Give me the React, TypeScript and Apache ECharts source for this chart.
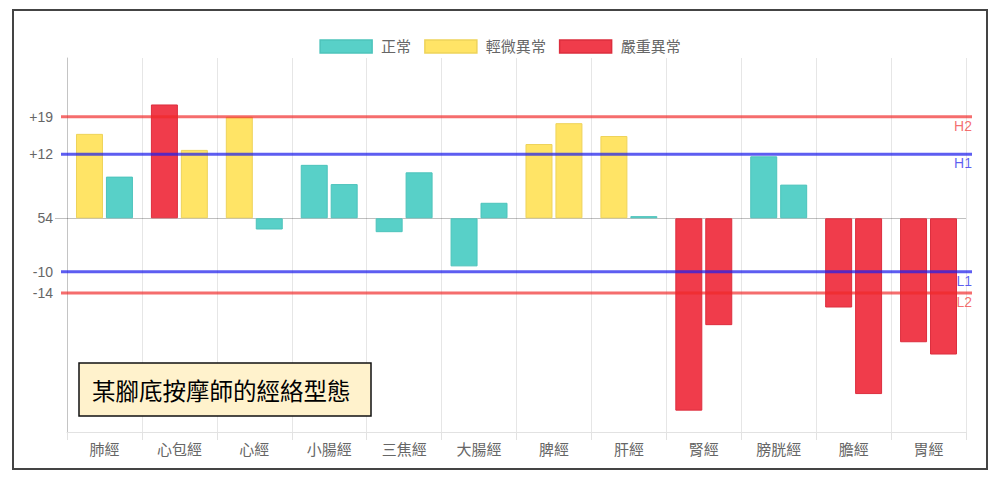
import React, { useEffect, useRef } from "react";
import * as echarts from "echarts";

const categories = ["肺經", "心包經", "心經", "小腸經", "三焦經", "大腸經", "脾經", "肝經", "腎經", "膀胱經", "膽經", "胃經"];
const leftValues = [15.8, 21.3, 19, 10, -2.6, -9, 13.9, 15.4, -36, 11.6, -16.7, -23.2];
const rightValues = [7.8, 12.8, -2.1, 6.4, 8.6, 2.9, 17.8, 0.4, -20, 6.3, -32.9, -25.5];
const leftStatus = [1, 2, 1, 0, 0, 0, 1, 1, 2, 0, 2, 2];
const rightStatus = [0, 1, 0, 0, 0, 0, 1, 0, 2, 0, 2, 2];
const statusNames = ["正常", "輕微異常", "嚴重異常"];
const thresholdValues = [19, 12, -10, -14];
const thresholdLabels = ["H2", "H1", "L1", "L2"];
const yTickValues = [19, 12, 0, -10, -14];
const yTickLabels = ["+19", "+12", "54", "-10", "-14"];
const titleText = "某腳底按摩師的經絡型態";

const FONT = "'Liberation Sans', 'Noto Sans CJK TC', sans-serif";
const statusFill = ["#58D0C8", "#FFE466", "#F03C4B"];
const statusBorder = ["#4CC3BB", "#EED35A", "#DC2E3E"];
const thresholdColor: Record<string, string> = {
  H2: "rgba(240,40,40,0.68)",
  H1: "rgba(30,30,235,0.72)",
  L1: "rgba(30,30,235,0.72)",
  L2: "rgba(240,40,40,0.68)",
};

export default function App() {
  const ref = useRef<HTMLDivElement>(null);
  useEffect(() => {
    document.body.style.margin = "0";
    const chart = echarts.init(ref.current!, null, { renderer: "svg" });
    const barData = (vals: number[], st: number[]) =>
      vals.map((v, i) => ({
        value: v,
        itemStyle: { color: statusFill[st[i]], borderColor: statusBorder[st[i]], borderWidth: 1 },
      }));
    const option: any = {
      animation: false,
      textStyle: { fontFamily: FONT },
      legend: {
        top: 34,
        left: "center",
        icon: "rect",
        itemWidth: 52,
        itemHeight: 13,
        itemGap: 13,
        textStyle: { fontSize: 15, color: "#666", fontFamily: FONT, padding: [0, 0, 0, 4] },
        selectedMode: false,
        data: statusNames.map((n, i) => ({
          name: n,
          itemStyle: { color: statusFill[i], borderColor: statusBorder[i], borderWidth: 1.5 },
        })),
      },
      grid: { left: 67, right: 34, top: 58, bottom: 52, containLabel: false },
      xAxis: {
        type: "category",
        data: categories,
        boundaryGap: true,
        axisLine: { onZero: false, lineStyle: { color: "#e2e2e2" } },
        axisTick: { show: true, length: 8, lineStyle: { color: "#e2e2e2" } },
        splitLine: { show: true, lineStyle: { color: "#e6e6e6", width: 1 } },
        axisLabel: { fontSize: 15, color: "#666", margin: 10, fontFamily: FONT },
      },
      yAxis: {
        type: "value",
        min: -40,
        max: 30,
        interval: 1,
        axisLine: { show: true, lineStyle: { color: "#c4c4c4" } },
        axisTick: { show: false },
        splitLine: { show: false },
        axisLabel: {
          fontSize: 14,
          color: "#666",
          margin: 14,
          fontFamily: FONT,
          formatter: (v: number) => {
            const i = yTickValues.indexOf(Math.round(v * 1000) / 1000);
            return i >= 0 ? yTickLabels[i] : "";
          },
        },
      },
      series: [
        ...statusNames.map((n, i) => ({
          name: n,
          type: "line",
          data: [],
          itemStyle: { color: statusFill[i] },
        })),
        {
          name: "左",
          type: "bar",
          data: barData(leftValues, leftStatus),
          barCategoryGap: "24%",
          barGap: "11%",
          z: 2,
        },
        {
          name: "右",
          type: "bar",
          data: barData(rightValues, rightStatus),
          barCategoryGap: "24%",
          barGap: "11%",
          z: 2,
        },
        {
          name: "zero",
          type: "custom",
          z: 1,
          silent: true,
          data: [[0, 0]],
          renderItem: (params: any, api: any) => {
            const cs = params.coordSys;
            const y = Math.round(api.coord([0, api.value(1)])[1]) + 0.5;
            return {
              type: "line",
              shape: { x1: cs.x - 12, y1: y, x2: cs.x + cs.width, y2: y },
              style: { stroke: "rgba(0,0,0,0.25)", lineWidth: 1 },
            };
          },
        },
        {
          name: "thresholds",
          type: "custom",
          z: 5,
          silent: true,
          data: thresholdValues.map((v) => [0, v]),
          renderItem: (params: any, api: any) => {
            const cs = params.coordSys;
            const y = api.coord([0, api.value(1)])[1];
            const label = thresholdLabels[params.dataIndex];
            const color = thresholdColor[label];
            return {
              type: "group",
              children: [
                {
                  type: "line",
                  shape: { x1: cs.x - 6, y1: y, x2: cs.x + cs.width + 6, y2: y },
                  style: { stroke: color, lineWidth: 3 },
                },
                {
                  type: "text",
                  style: {
                    text: label,
                    x: cs.x + cs.width + 6,
                    y: y + 2,
                    align: "right",
                    verticalAlign: "top",
                    fill: color,
                    fontSize: 14,
                    fontFamily: FONT,
                  },
                },
              ],
            };
          },
        },
      ],
      graphic: [
        {
          type: "rect",
          shape: { x: 13, y: 10, width: 974, height: 459 },
          style: { fill: "none", stroke: "#444", lineWidth: 2 },
          z: 100,
        },
        {
          type: "rect",
          z: 100,
          shape: { x: 79, y: 363, width: 292, height: 53 },
          style: { fill: "#FFF2CC", stroke: "#111", lineWidth: 1.5 },
        },
        {
          type: "text",
          z: 101,
          style: {
            text: titleText,
            x: 92,
            y: 390,
            verticalAlign: "middle",
            fill: "#000",
            fontSize: 23.5,
            fontFamily: "'Noto Sans CJK TC', sans-serif",
          },
        },
      ],
    };
    chart.setOption(option);
    return () => chart.dispose();
  }, []);
  return <div ref={ref} style={{ width: 1000, height: 484 }} />;
}
